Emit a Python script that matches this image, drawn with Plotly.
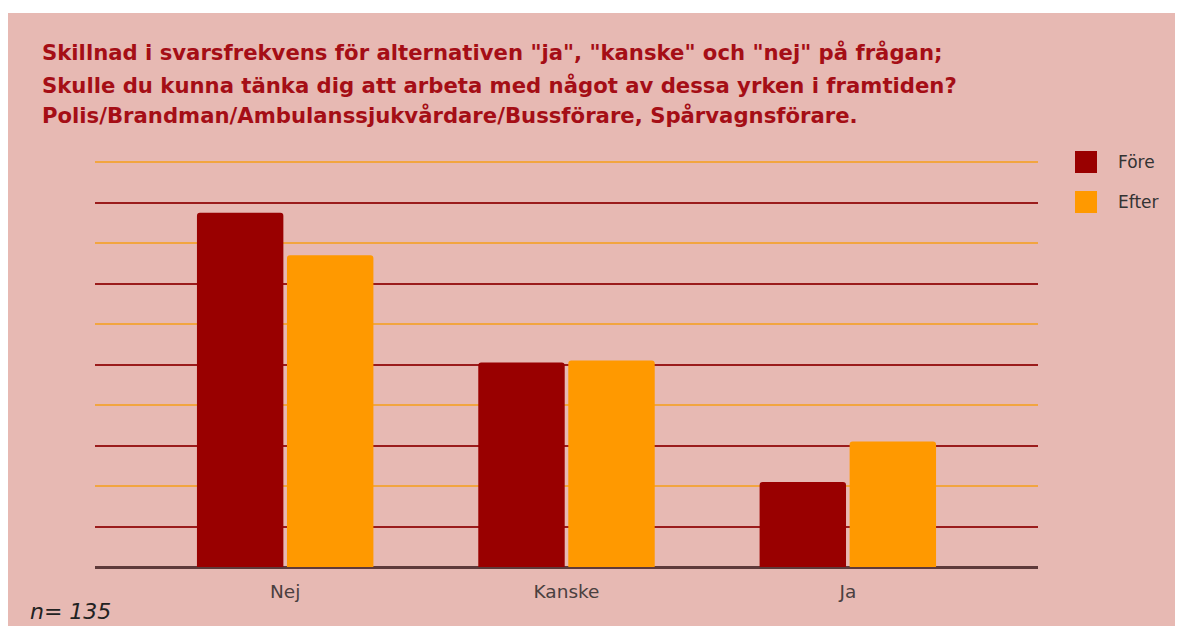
import plotly.graph_objects as go

categories = ["Nej", "Kanske", "Ja"]
fore = [87.5, 50.5, 21.0]
efter = [77.0, 51.0, 31.0]
series_names = ["Före", "Efter"]
series_colors = ["#990000", "#ff9900"]
title_lines = [
    'Skillnad i svarsfrekvens för alternativen "ja", "kanske" och "nej" på frågan;',
    'Skulle du kunna tänka dig att arbeta med något av dessa yrken i framtiden?',
    'Polis/Brandman/Ambulanssjukvårdare/Bussförare, Spårvagnsförare.',
]
note = "n= 135"

OFF = 8  # page body margin
W, H = 1183, 618
L, T, B = 87, 150, 59
R = W - L - 943
PW, PH = W - L - R, H - T - B

def px(x):
    return (x - OFF - L) / PW

def py(y):
    return (H - B - (y - OFF)) / PH

pink = "#e7b9b3"
fig = go.Figure()
for name, vals, col in zip(series_names, [fore, efter], series_colors):
    fig.add_trace(go.Bar(x=categories, y=vals, name=name, marker_color=col,
                         marker_line_width=0, marker_cornerradius=3, showlegend=False))

annotations = []
for i, line in enumerate(title_lines):
    annotations.append(dict(text="<b>" + line + "</b>", x=px(40), y=py([52, 85, 115][i]),
                            xref="paper", yref="paper", xanchor="left", yanchor="middle",
                            showarrow=False,
                            font=dict(family="DejaVu Sans", size=21.2, color="#a50e16")))
annotations.append(dict(text="<i>" + note + "</i>", x=px(28), y=py(611), xref="paper", yref="paper",
                        xanchor="left", yanchor="middle", showarrow=False,
                        font=dict(family="DejaVu Sans", size=22, color="#222222")))

shapes = [
    dict(type="rect", xref="paper", yref="paper", x0=px(OFF), x1=px(OFF + W), y0=py(13), y1=py(OFF),
         fillcolor="white", line_width=0, layer="below"),
]
# legend keys
for i, (name, col) in enumerate(zip(series_names, series_colors)):
    cy = [162, 202][i]
    shapes.append(dict(type="rect", xref="paper", yref="paper", x0=px(1075), x1=px(1097),
                       y0=py(cy + 11), y1=py(cy - 11), fillcolor=col, line_width=0))
    annotations.append(dict(text=name, x=px(1116), y=py(cy), xref="paper", yref="paper",
                            xanchor="left", yanchor="middle", showarrow=False,
                            font=dict(family="DejaVu Sans", size=17, color="#333333")))

fig.update_layout(
    width=W, height=H,
    margin=dict(l=L, r=R, t=T, b=B, pad=0),
    paper_bgcolor=pink, plot_bgcolor=pink,
    barmode="group", bargap=0.36, bargroupgap=0.04,
    annotations=annotations, shapes=shapes,
    font=dict(family="DejaVu Sans", size=17, color="#444444"),
    showlegend=False,
    xaxis=dict(range=[-0.676, 2.676], showgrid=False, ticks="", showline=False,
               tickfont=dict(family="DejaVu Sans", size=18.5, color="#4a4040"),
               ticklabelstandoff=11),
    yaxis=dict(range=[0, 101], tick0=10, dtick=20, showticklabels=False, ticks="",
               showgrid=True, gridcolor="#9b1c1c", gridwidth=1.5,
               minor=dict(tick0=0, dtick=20, showgrid=True, gridcolor="#f2a540", gridwidth=1.5),
               zeroline=True, zerolinecolor="#5e3a3a", zerolinewidth=2.5, showline=False),
)

fig.write_html("out.html")
